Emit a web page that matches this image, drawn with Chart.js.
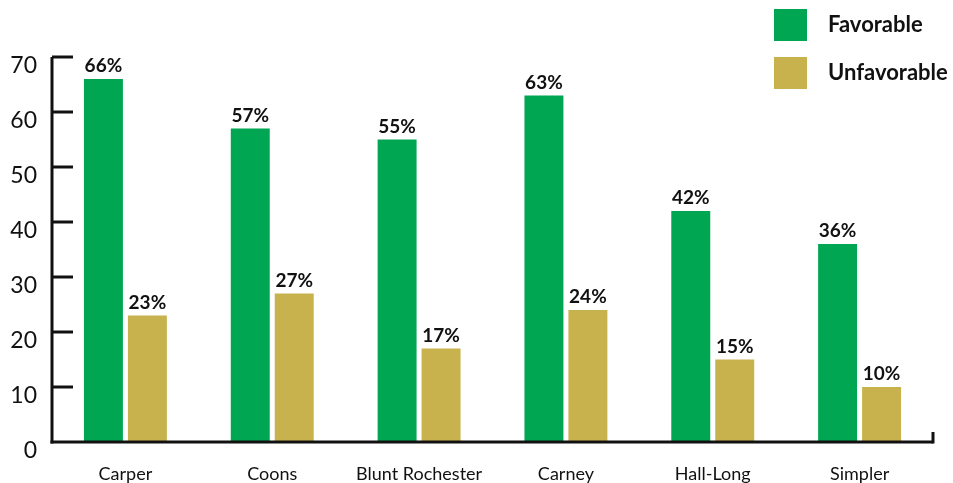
<!DOCTYPE html>
<html>
<head>
<meta charset="utf-8">
<script src="https://cdn.jsdelivr.net/npm/chart.js@4.4.1/dist/chart.umd.min.js"></script>
<style>
  html, body { margin: 0; padding: 0; background: #ffffff; }
  #wrap { width: 953px; height: 483px; position: relative; }
</style>
</head>
<body>
<div id="wrap"><canvas id="c" width="953" height="483"></canvas></div>
<script>
const categories = ["Carper", "Coons", "Blunt Rochester", "Carney", "Hall-Long", "Simpler"];
const favorable = [66, 57, 55, 63, 42, 36];
const unfavorable = [23, 27, 17, 24, 15, 10];
const seriesNames = ["Favorable", "Unfavorable"];
const yTicks = [0, 10, 20, 30, 40, 50, 60, 70];

const GREEN = "#00a651";
const GOLD = "#c8b24e";
const FONT = "Lato, 'Open Sans', sans-serif";

const axisPlugin = {
  id: "axisPlugin",
  afterDatasetsDraw(chart) {
    const { ctx, chartArea, scales } = chart;
    const y = scales.y;
    ctx.save();
    ctx.strokeStyle = "#111";
    ctx.lineWidth = 3;
    ctx.lineCap = "butt";
    ctx.beginPath();
    ctx.moveTo(chartArea.left, y.getPixelForValue(70));
    ctx.lineTo(chartArea.left, y.getPixelForValue(0) + 1.5);
    ctx.stroke();
    yTicks.forEach(v => {
      if (v === 0) return;
      const py = y.getPixelForValue(v);
      ctx.beginPath();
      ctx.moveTo(chartArea.left, py);
      ctx.lineTo(chartArea.left + 21, py);
      ctx.stroke();
    });
    const p0 = y.getPixelForValue(0);
    ctx.beginPath();
    ctx.moveTo(chartArea.left - 1.5, p0);
    ctx.lineTo(chartArea.right, p0);
    ctx.stroke();
    ctx.beginPath();
    ctx.moveTo(chartArea.right, p0 + 1.5);
    ctx.lineTo(chartArea.right, p0 - 10);
    ctx.stroke();

    ctx.fillStyle = "#111";
    ctx.font = "bold 19px " + FONT;
    ctx.textAlign = "center";
    ctx.textBaseline = "alphabetic";
    chart.data.datasets.forEach((ds, di) => {
      const meta = chart.getDatasetMeta(di);
      meta.data.forEach((bar, i) => {
        ctx.fillText(ds.data[i] + "%", bar.x, bar.y - 7);
      });
    });

    ctx.font = "bold 22px " + FONT;
    ctx.textAlign = "left";
    ctx.textBaseline = "middle";
    chart.data.datasets.forEach((ds, di) => {
      const top = 9 + di * 48;
      ctx.fillStyle = ds.backgroundColor;
      ctx.fillRect(774, top, 33, 32);
      ctx.fillStyle = "#111";
      ctx.fillText(ds.label, 828, top + 16);
    });
    ctx.restore();
  }
};

new Chart(document.getElementById("c"), {
  type: "bar",
  data: {
    labels: categories,
    datasets: [
      { label: seriesNames[0], data: favorable, backgroundColor: GREEN },
      { label: seriesNames[1], data: unfavorable, backgroundColor: GOLD }
    ]
  },
  options: {
    responsive: false,
    animation: false,
    devicePixelRatio: 1,
    layout: { padding: { top: 57, right: 20, left: 0, bottom: 0 } },
    datasets: { bar: { categoryPercentage: 0.599, barPercentage: 0.886 } },
    plugins: { legend: { display: false }, tooltip: { enabled: false }, title: { display: false } },
    scales: {
      x: {
        grid: { display: false, drawTicks: false },
        border: { display: false },
        ticks: { color: "#111", font: { family: FONT, size: 18 }, padding: 21, maxRotation: 0 },
        afterFit(s) { s.height = 41; }
      },
      y: {
        min: 0, max: 70,
        grid: { display: false, drawTicks: false },
        border: { display: false },
        afterBuildTicks(s) { s.ticks = yTicks.map(v => ({ value: v })); },
        ticks: { color: "#111", font: { family: FONT, size: 23 }, padding: 15, labelOffset: 9 },
        afterFit(s) { s.width = 52; }
      }
    }
  },
  plugins: [axisPlugin]
});
</script>
</body>
</html>
